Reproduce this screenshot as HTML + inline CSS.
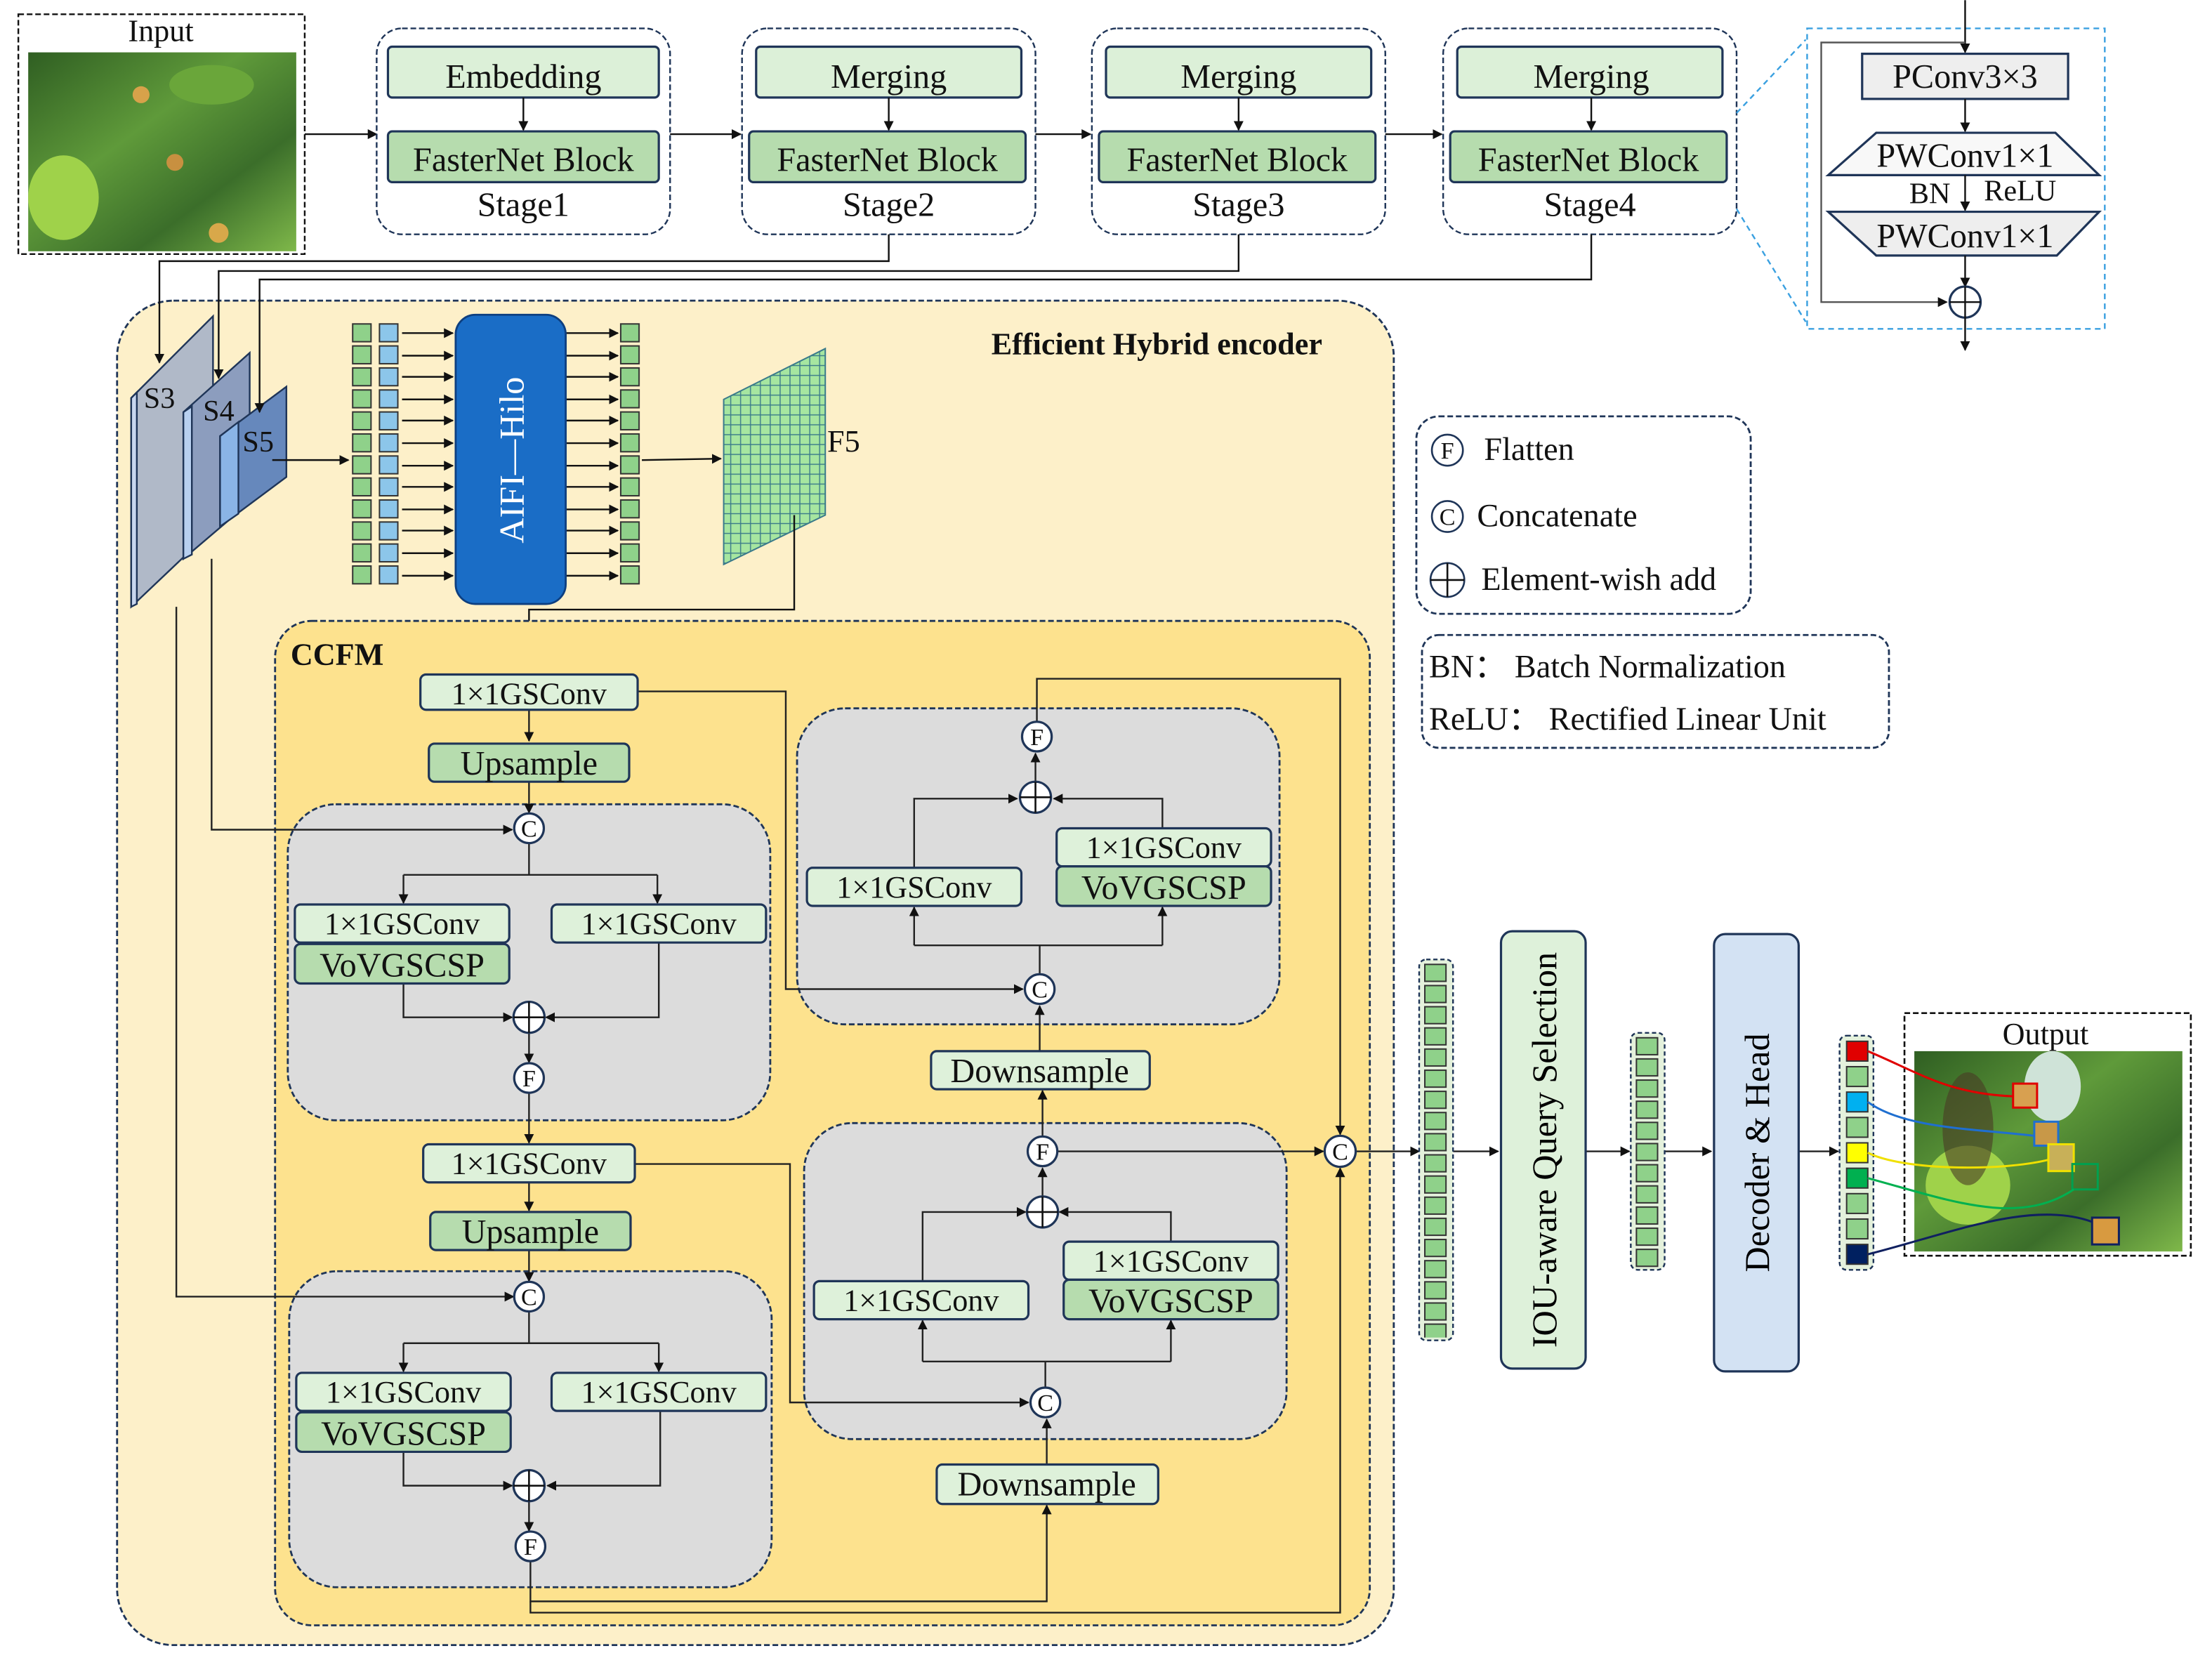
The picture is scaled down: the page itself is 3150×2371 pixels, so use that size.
<!DOCTYPE html>
<html><head><meta charset="utf-8"><style>html,body{margin:0;padding:0;background:#fff}svg{display:block}svg text{font-family:"Liberation Serif","DejaVu Serif",serif}</style></head>
<body>
<svg xmlns="http://www.w3.org/2000/svg" width="3150" height="2371" viewBox="0 0 1568 1180">
<defs>
<marker id="a" viewBox="0 0 10 10" refX="9" refY="5" markerWidth="7" markerHeight="7" orient="auto-start-reverse" markerUnits="userSpaceOnUse"><path d="M0,0L10,5L0,10z" fill="#111"/></marker>
<pattern id="tg1" x="249" y="228" width="200" height="15.6" patternUnits="userSpaceOnUse"><rect x="1" y="1.5" width="13" height="12.6" fill="#8fd18a" stroke="#333" stroke-width="1"/></pattern>
<pattern id="tb1" x="268" y="228" width="200" height="15.6" patternUnits="userSpaceOnUse"><rect x="1" y="1.5" width="13" height="12.6" fill="#8cc6ea" stroke="#333" stroke-width="1"/></pattern>
<pattern id="tg2" x="439" y="228" width="200" height="15.6" patternUnits="userSpaceOnUse"><rect x="1" y="1.5" width="13" height="12.6" fill="#8fd18a" stroke="#333" stroke-width="1"/></pattern>
<pattern id="tq1" x="1008" y="682" width="200" height="15" patternUnits="userSpaceOnUse"><rect x="2" y="1.5" width="15" height="12" fill="#8fd18a" stroke="#333" stroke-width="1"/></pattern>
<pattern id="tq2" x="1158" y="734" width="200" height="15" patternUnits="userSpaceOnUse"><rect x="2" y="1.5" width="15" height="12" fill="#8fd18a" stroke="#333" stroke-width="1"/></pattern>
<pattern id="grid" width="7" height="7" patternUnits="userSpaceOnUse"><rect width="7" height="7" fill="#a6e6a0" stroke="#3a7a8a" stroke-width="0.7"/></pattern>
<linearGradient id="img" x1="0" y1="0" x2="1" y2="1"><stop offset="0" stop-color="#2f5e22"/><stop offset="0.4" stop-color="#5f9a3a"/><stop offset="0.7" stop-color="#3b6e2a"/><stop offset="1" stop-color="#7fb84a"/></linearGradient>
</defs>
<g stroke="#111" stroke-width="1.2" fill="none">
<rect x="13" y="10" width="203" height="170" stroke-dasharray="4,2" fill="#fff"/>
<rect x="20" y="37" width="190" height="141" fill="url(#img)" stroke="none"/>
<ellipse cx="45" cy="140" rx="25" ry="30" fill="#9fd24a" stroke="none"/>
<ellipse cx="150" cy="60" rx="30" ry="14" fill="#6aa63a" stroke="none"/>
<circle cx="100" cy="67" r="6" fill="#d7a24a" stroke="none"/><circle cx="124" cy="115" r="6" fill="#c89040" stroke="none"/><circle cx="155" cy="165" r="7" fill="#d8a84a" stroke="none"/>
<line x1="216" y1="95" x2="267" y2="95" marker-end="url(#a)"/>
<g stroke="#1f3558">
<rect x="267" y="20" width="208" height="146" rx="18" stroke-dasharray="4,2"/>
<rect x="526" y="20" width="208" height="146" rx="18" stroke-dasharray="4,2"/>
<rect x="774" y="20" width="208" height="146" rx="18" stroke-dasharray="4,2"/>
<rect x="1023" y="20" width="208" height="146" rx="18" stroke-dasharray="4,2"/>
<rect x="275" y="33" width="192" height="36" rx="3" fill="#dcf0d8" stroke-width="1.6"/>
<rect x="275" y="93" width="192" height="36" rx="3" fill="#b6dcae" stroke-width="1.6"/>
<rect x="536" y="33" width="188" height="36" rx="3" fill="#dcf0d8" stroke-width="1.6"/>
<rect x="531" y="93" width="196" height="36" rx="3" fill="#b6dcae" stroke-width="1.6"/>
<rect x="784" y="33" width="188" height="36" rx="3" fill="#dcf0d8" stroke-width="1.6"/>
<rect x="779" y="93" width="196" height="36" rx="3" fill="#b6dcae" stroke-width="1.6"/>
<rect x="1033" y="33" width="188" height="36" rx="3" fill="#dcf0d8" stroke-width="1.6"/>
<rect x="1028" y="93" width="196" height="36" rx="3" fill="#b6dcae" stroke-width="1.6"/>
</g>
<line x1="371" y1="69" x2="371" y2="92" marker-end="url(#a)"/>
<line x1="630" y1="69" x2="630" y2="92" marker-end="url(#a)"/>
<line x1="878" y1="69" x2="878" y2="92" marker-end="url(#a)"/>
<line x1="1128" y1="69" x2="1128" y2="92" marker-end="url(#a)"/>
<line x1="475" y1="95" x2="525" y2="95" marker-end="url(#a)"/>
<line x1="734" y1="95" x2="773" y2="95" marker-end="url(#a)"/>
<line x1="982" y1="95" x2="1022" y2="95" marker-end="url(#a)"/>
<line x1="1231" y1="80" x2="1280" y2="28" stroke="#3aa0e0" stroke-dasharray="4,3"/>
<line x1="1231" y1="148" x2="1280" y2="228" stroke="#3aa0e0" stroke-dasharray="4,3"/>
<rect x="1281" y="20" width="211" height="213" stroke="#3aa0e0" stroke-dasharray="4,3"/>
<line x1="1393" y1="0" x2="1393" y2="37" marker-end="url(#a)"/>
<polyline points="1393,30 1291,30 1291,214 1380,214" stroke="#555" marker-end="url(#a)"/>
<rect x="1320" y="38" width="146" height="32" fill="#eee" stroke="#1f3558" stroke-width="1.6"/>
<line x1="1393" y1="70" x2="1393" y2="93" marker-end="url(#a)"/>
<polygon points="1330,94 1457,94 1488,124 1296,124" fill="#f8f8f8" stroke="#1f3558" stroke-width="1.6"/>
<line x1="1393" y1="124" x2="1393" y2="149" marker-end="url(#a)"/>
<polygon points="1296,150 1488,150 1458,181 1330,181" fill="#eee" stroke="#1f3558" stroke-width="1.6"/>
<line x1="1393" y1="181" x2="1393" y2="203" marker-end="url(#a)"/>
<circle cx="1393" cy="214" r="11" fill="#fff" stroke="#1f3558" stroke-width="1.6"/>
<line x1="1382" y1="214" x2="1404" y2="214"/><line x1="1393" y1="203" x2="1393" y2="248" marker-end="url(#a)"/>
</g>
<rect x="83" y="213" width="905" height="953" rx="40" fill="#fdf0c9" stroke="#1f3558" stroke-width="1.4" stroke-dasharray="4,2"/>
<g stroke="#1f3558" stroke-width="1.2">
<polygon points="93,282 151,224 151,375 93,430" fill="#b0b9c8"/>
<polygon points="93,282 97,278 97,428 93,430" fill="#c8d6ee"/>
<polygon points="130,292 177,250 177,356 130,396" fill="#8c9dbe"/>
<polygon points="130,292 136,288 136,393 130,396" fill="#b8d0f0"/>
<polygon points="156,309 203,274 203,338 156,373" fill="#6688bc"/>
<polygon points="156,309 169,299 169,364 156,373" fill="#8ab4e6"/>
</g>
<g stroke="#111" stroke-width="1.2" fill="none">
<polyline points="630,166 630,185 113,185 113,257" marker-end="url(#a)"/>
<polyline points="878,166 878,192 155,192 155,268" marker-end="url(#a)"/>
<polyline points="1128,166 1128,198 184,198 184,292" marker-end="url(#a)"/>
<polyline points="193,326 247,326" marker-end="url(#a)"/>
</g>
<rect x="249" y="228" width="16" height="187.2" fill="url(#tg1)"/>
<rect x="268" y="228" width="16" height="187.2" fill="url(#tb1)"/>
<rect x="439" y="228" width="16" height="187.2" fill="url(#tg2)"/>
<g stroke="#111" stroke-width="1.2">
<line x1="285" y1="236" x2="321" y2="236" marker-end="url(#a)"/><line x1="285" y1="252" x2="321" y2="252" marker-end="url(#a)"/><line x1="285" y1="267" x2="321" y2="267" marker-end="url(#a)"/><line x1="285" y1="283" x2="321" y2="283" marker-end="url(#a)"/><line x1="285" y1="298" x2="321" y2="298" marker-end="url(#a)"/><line x1="285" y1="314" x2="321" y2="314" marker-end="url(#a)"/><line x1="285" y1="330" x2="321" y2="330" marker-end="url(#a)"/><line x1="285" y1="345" x2="321" y2="345" marker-end="url(#a)"/><line x1="285" y1="361" x2="321" y2="361" marker-end="url(#a)"/><line x1="285" y1="376" x2="321" y2="376" marker-end="url(#a)"/><line x1="285" y1="392" x2="321" y2="392" marker-end="url(#a)"/><line x1="285" y1="408" x2="321" y2="408" marker-end="url(#a)"/>
<line x1="401" y1="236" x2="438" y2="236" marker-end="url(#a)"/><line x1="401" y1="252" x2="438" y2="252" marker-end="url(#a)"/><line x1="401" y1="267" x2="438" y2="267" marker-end="url(#a)"/><line x1="401" y1="283" x2="438" y2="283" marker-end="url(#a)"/><line x1="401" y1="298" x2="438" y2="298" marker-end="url(#a)"/><line x1="401" y1="314" x2="438" y2="314" marker-end="url(#a)"/><line x1="401" y1="330" x2="438" y2="330" marker-end="url(#a)"/><line x1="401" y1="345" x2="438" y2="345" marker-end="url(#a)"/><line x1="401" y1="361" x2="438" y2="361" marker-end="url(#a)"/><line x1="401" y1="376" x2="438" y2="376" marker-end="url(#a)"/><line x1="401" y1="392" x2="438" y2="392" marker-end="url(#a)"/><line x1="401" y1="408" x2="438" y2="408" marker-end="url(#a)"/>
<line x1="455" y1="326" x2="511" y2="325" marker-end="url(#a)"/>
</g>
<rect x="323" y="223" width="78" height="205" rx="14" fill="#1a6dc6" stroke="#0d3f80" stroke-width="1.4"/>
<text transform="translate(371,326) rotate(-90)" text-anchor="middle" font-size="25" fill="#fff">AIFI—Hilo</text>
<polygon points="513,283 585,247 585,365 513,400" fill="url(#grid)" stroke="#3a7a8a"/>
<polyline points="563,365 563,432 375,432 375,477" fill="none" stroke="#111" stroke-width="1.2" marker-end="url(#a)"/>
<rect x="1004" y="295" width="237" height="140" rx="16" fill="#fff" stroke="#1f3558" stroke-width="1.4" stroke-dasharray="4,2"/>
<rect x="1008" y="450" width="331" height="80" rx="12" fill="#fff" stroke="#1f3558" stroke-width="1.4" stroke-dasharray="4,2"/>
<g stroke="#1f3558" stroke-width="1.3" fill="#fff">
<circle cx="1026" cy="319" r="11"/><circle cx="1026" cy="366" r="11"/><circle cx="1026" cy="411" r="12"/>
</g>
<g stroke="#111" stroke-width="1.3"><line x1="1014" y1="411" x2="1038" y2="411"/><line x1="1026" y1="399" x2="1026" y2="423"/></g>
<rect x="195" y="440" width="776" height="712" rx="26" fill="#fde28e" stroke="#1f3558" stroke-width="1.4" stroke-dasharray="4,2"/>
<g fill="#dcdcdc" stroke="#1f3558" stroke-width="1.4" stroke-dasharray="4,2">
<rect x="204" y="570" width="342" height="224" rx="34"/>
<rect x="205" y="901" width="342" height="224" rx="34"/>
<rect x="565" y="502" width="342" height="224" rx="34"/>
<rect x="570" y="796" width="342" height="224" rx="34"/>
</g>
<g fill="none" stroke="#222" stroke-width="1.2">
<line x1="375" y1="503" x2="375" y2="525" marker-end="url(#a)"/>
<line x1="375" y1="554" x2="375" y2="576" marker-end="url(#a)"/>
<polyline points="150,396 150,588 363,588" marker-end="url(#a)"/>
<line x1="375" y1="598" x2="375" y2="620"/>
<polyline points="286,620 466,620"/>
<line x1="286" y1="620" x2="286" y2="640" marker-end="url(#a)"/><line x1="466" y1="620" x2="466" y2="640" marker-end="url(#a)"/>
<polyline points="286,697 286,721 363,721" marker-end="url(#a)"/>
<polyline points="467,668 467,721 387,721" marker-end="url(#a)"/>
<line x1="375" y1="732" x2="375" y2="753" marker-end="url(#a)"/>
<line x1="375" y1="775" x2="375" y2="810" marker-end="url(#a)"/>
<line x1="375" y1="838" x2="375" y2="858" marker-end="url(#a)"/>
<line x1="375" y1="886" x2="375" y2="908" marker-end="url(#a)"/>
<polyline points="125,430 125,919 364,919" marker-end="url(#a)"/>
<line x1="375" y1="930" x2="375" y2="952"/>
<polyline points="286,952 467,952"/>
<line x1="286" y1="952" x2="286" y2="972" marker-end="url(#a)"/><line x1="467" y1="952" x2="467" y2="972" marker-end="url(#a)"/>
<polyline points="286,1029 286,1053 363,1053" marker-end="url(#a)"/>
<polyline points="468,1000 468,1053 388,1053" marker-end="url(#a)"/>
<line x1="375" y1="1064" x2="375" y2="1085" marker-end="url(#a)"/>
<polyline points="376,1107 376,1135 742,1135 742,1067" marker-end="url(#a)"/>
<polyline points="376,1135 376,1143 950,1143 950,828" marker-end="url(#a)"/>
<polyline points="452,490 557,490 557,701 725,701" marker-end="url(#a)"/>
<line x1="737" y1="745" x2="737" y2="713" marker-end="url(#a)"/>
<polyline points="737,690 737,670"/>
<polyline points="648,670 824,670"/>
<line x1="648" y1="670" x2="648" y2="643" marker-end="url(#a)"/><line x1="824" y1="670" x2="824" y2="643" marker-end="url(#a)"/>
<polyline points="648,615 648,566 721,566" marker-end="url(#a)"/>
<polyline points="824,587 824,566 747,566" marker-end="url(#a)"/>
<line x1="734" y1="554" x2="734" y2="534" marker-end="url(#a)"/>
<polyline points="735,511 735,481 950,481 950,804" marker-end="url(#a)"/>
<polyline points="450,825 560,825 560,994 729,994" marker-end="url(#a)"/>
<line x1="742" y1="1038" x2="742" y2="1006" marker-end="url(#a)"/>
<line x1="741" y1="983" x2="741" y2="965"/>
<polyline points="654,965 830,965"/>
<line x1="654" y1="965" x2="654" y2="936" marker-end="url(#a)"/><line x1="830" y1="965" x2="830" y2="936" marker-end="url(#a)"/>
<polyline points="654,908 654,859 727,859" marker-end="url(#a)"/>
<polyline points="830,880 830,859 751,859" marker-end="url(#a)"/>
<line x1="739" y1="848" x2="739" y2="828" marker-end="url(#a)"/>
<line x1="739" y1="805" x2="739" y2="773" marker-end="url(#a)"/>
<line x1="750" y1="816" x2="938" y2="816" marker-end="url(#a)"/>
<line x1="961" y1="816" x2="1006" y2="816" marker-end="url(#a)"/>
<line x1="1030" y1="816" x2="1062" y2="816" marker-end="url(#a)"/>
<line x1="1124" y1="816" x2="1155" y2="816" marker-end="url(#a)"/>
<line x1="1180" y1="816" x2="1213" y2="816" marker-end="url(#a)"/>
<line x1="1275" y1="816" x2="1303" y2="816" marker-end="url(#a)"/>
</g>
<g stroke="#1f3558" stroke-width="1.6">
<rect x="298" y="478" width="154" height="25" rx="4" fill="#def1da"/>
<rect x="304" y="527" width="142" height="27" rx="4" fill="#b6dcae"/>
<rect x="209" y="641" width="152" height="27" rx="4" fill="#def1da"/>
<rect x="209" y="669" width="152" height="28" rx="4" fill="#b6dcae"/>
<rect x="391" y="641" width="152" height="27" rx="4" fill="#def1da"/>
<rect x="300" y="811" width="150" height="27" rx="4" fill="#def1da"/>
<rect x="305" y="859" width="142" height="27" rx="4" fill="#b6dcae"/>
<rect x="210" y="973" width="152" height="27" rx="4" fill="#def1da"/>
<rect x="210" y="1001" width="152" height="28" rx="4" fill="#b6dcae"/>
<rect x="391" y="973" width="152" height="27" rx="4" fill="#def1da"/>
<rect x="572" y="615" width="152" height="27" rx="4" fill="#def1da"/>
<rect x="749" y="587" width="152" height="27" rx="4" fill="#def1da"/>
<rect x="749" y="614" width="152" height="28" rx="4" fill="#b6dcae"/>
<rect x="660" y="745" width="155" height="27" rx="4" fill="#def1da"/>
<rect x="577" y="908" width="152" height="27" rx="4" fill="#def1da"/>
<rect x="754" y="880" width="152" height="27" rx="4" fill="#def1da"/>
<rect x="754" y="907" width="152" height="28" rx="4" fill="#b6dcae"/>
<rect x="664" y="1038" width="157" height="28" rx="4" fill="#def1da"/>
<g fill="#fff">
<circle cx="375" cy="587" r="10.5"/><circle cx="375" cy="721" r="11"/><circle cx="375" cy="764" r="10.5"/>
<circle cx="375" cy="919" r="10.5"/><circle cx="375" cy="1053" r="11"/><circle cx="376" cy="1096" r="10.5"/>
<circle cx="735" cy="522" r="10.5"/><circle cx="734" cy="565" r="11"/><circle cx="737" cy="701" r="10.5"/>
<circle cx="739" cy="816" r="10.5"/><circle cx="739" cy="859" r="11"/><circle cx="741" cy="994" r="10.5"/>
<circle cx="950" cy="816" r="11"/>
</g>
</g>
<g stroke="#111" stroke-width="1.3">
<line x1="364" y1="721" x2="386" y2="721"/><line x1="375" y1="710" x2="375" y2="732"/>
<line x1="364" y1="1053" x2="386" y2="1053"/><line x1="375" y1="1042" x2="375" y2="1064"/>
<line x1="723" y1="565" x2="745" y2="565"/><line x1="734" y1="554" x2="734" y2="576"/>
<line x1="728" y1="859" x2="750" y2="859"/><line x1="739" y1="848" x2="739" y2="870"/>
</g>
<rect x="1006" y="680" width="24" height="270" rx="5" fill="#e4f1dc" stroke="#1f3558" stroke-width="1.2" stroke-dasharray="3,2"/>
<rect x="1008" y="682" width="20" height="266" fill="url(#tq1)"/>
<rect x="1156" y="732" width="24" height="168" rx="5" fill="#e4f1dc" stroke="#1f3558" stroke-width="1.2" stroke-dasharray="3,2"/>
<rect x="1158" y="734" width="20" height="165" fill="url(#tq2)"/>
<rect x="1064" y="660" width="60" height="310" rx="8" fill="#def1da" stroke="#1f3558" stroke-width="1.6"/>
<text transform="translate(1103,815) rotate(-90)" text-anchor="middle" font-size="25">IOU-aware  Query  Selection</text>
<rect x="1215" y="662" width="60" height="310" rx="8" fill="#d3e2f3" stroke="#1f3558" stroke-width="1.6"/>
<text transform="translate(1254,817) rotate(-90)" text-anchor="middle" font-size="25">Decoder &amp; Head</text>
<rect x="1304" y="734" width="24" height="166" rx="5" fill="#e4f1dc" stroke="#1f3558" stroke-width="1.2" stroke-dasharray="3,2"/>
<g stroke="#333" stroke-width="1">
<rect x="1309" y="738" width="15" height="14" fill="#e00000"/><rect x="1309" y="756" width="15" height="14" fill="#8fd18a"/>
<rect x="1309" y="774" width="15" height="14" fill="#00b0f0"/><rect x="1309" y="792" width="15" height="14" fill="#8fd18a"/>
<rect x="1309" y="810" width="15" height="14" fill="#ffff00"/><rect x="1309" y="828" width="15" height="14" fill="#00b050"/>
<rect x="1309" y="846" width="15" height="14" fill="#8fd18a"/><rect x="1309" y="864" width="15" height="14" fill="#8fd18a"/>
<rect x="1309" y="882" width="15" height="14" fill="#002060"/>
</g>
<rect x="1350" y="718" width="203" height="172" fill="#fff" stroke="#111" stroke-width="1.3" stroke-dasharray="4,2"/>
<rect x="1357" y="745" width="190" height="142" fill="url(#img)"/>
<ellipse cx="1395" cy="840" rx="30" ry="28" fill="#9fd24a"/><ellipse cx="1395" cy="800" rx="18" ry="40" fill="#4a3a25" opacity="0.6"/>
<ellipse cx="1455" cy="770" rx="20" ry="25" fill="#cfe3d8"/>
<g stroke-width="1.5" fill="none">
<rect x="1427" y="768" width="17" height="17" stroke="#e00000" fill="#d8a050"/>
<rect x="1442" y="795" width="17" height="17" stroke="#1f6fd0" fill="#c89848"/>
<rect x="1452" y="811" width="18" height="19" stroke="#f0e000" fill="#c8b058"/>
<rect x="1469" y="825" width="18" height="18" stroke="#00a050"/>
<rect x="1483" y="863" width="19" height="19" stroke="#102060" fill="#d89a40"/>
<path d="M1324,745 C1360,760 1380,775 1427,777" stroke="#e00000"/>
<path d="M1324,781 C1350,800 1400,800 1442,805" stroke="#1f6fd0"/>
<path d="M1324,817 C1350,830 1420,830 1452,822" stroke="#f0e000"/>
<path d="M1324,835 C1380,850 1430,870 1470,843" stroke="#00b050"/>
<path d="M1324,889 C1380,875 1440,850 1483,866" stroke="#102060"/>
</g>
<g font-size="24" fill="#111" text-anchor="middle">
<text x="114" y="29" font-size="22">Input</text>
<text x="371" y="62">Embedding</text><text x="371" y="121">FasterNet Block</text><text x="371" y="153">Stage1</text>
<text x="630" y="62">Merging</text><text x="629" y="121">FasterNet Block</text><text x="630" y="153">Stage2</text>
<text x="878" y="62">Merging</text><text x="877" y="121">FasterNet Block</text><text x="878" y="153">Stage3</text>
<text x="1128" y="62">Merging</text><text x="1126" y="121">FasterNet Block</text><text x="1127" y="153">Stage4</text>
<text x="1393" y="62">PConv3×3</text>
<text x="1393" y="118">PWConv1×1</text>
<text x="1368" y="144" font-size="21">BN</text><text x="1432" y="142" font-size="21">ReLU</text>
<text x="1393" y="175">PWConv1×1</text>
<text x="113" y="289" font-size="21">S3</text><text x="155" y="298" font-size="21">S4</text><text x="183" y="320" font-size="21">S5</text>
<text x="598" y="320" font-size="22">F5</text>
<text x="820" y="251" font-weight="bold" font-size="22">Efficient Hybrid  encoder</text>
<text x="239" y="471" font-weight="bold" font-size="22">CCFM</text>
<text x="375" y="499" font-size="22">1×1GSConv</text>
<text x="375" y="549">Upsample</text>
<text x="285" y="662" font-size="22">1×1GSConv</text><text x="285" y="692">VoVGSCSP</text><text x="467" y="662" font-size="22">1×1GSConv</text>
<text x="375" y="832" font-size="22">1×1GSConv</text>
<text x="376" y="881">Upsample</text>
<text x="286" y="994" font-size="22">1×1GSConv</text><text x="286" y="1024">VoVGSCSP</text><text x="467" y="994" font-size="22">1×1GSConv</text>
<text x="648" y="636" font-size="22">1×1GSConv</text><text x="825" y="608" font-size="22">1×1GSConv</text><text x="825" y="637">VoVGSCSP</text>
<text x="737" y="767">Downsample</text>
<text x="653" y="929" font-size="22">1×1GSConv</text><text x="830" y="901" font-size="22">1×1GSConv</text><text x="830" y="930">VoVGSCSP</text>
<text x="742" y="1060">Downsample</text>
<text x="1450" y="740" font-size="22">Output</text>
<g font-size="17">
<text x="375" y="593">C</text><text x="375" y="770">F</text><text x="375" y="925">C</text><text x="376" y="1102">F</text>
<text x="735" y="528">F</text><text x="737" y="707">C</text><text x="739" y="822">F</text><text x="741" y="1000">C</text><text x="950" y="822">C</text>
<text x="1026" y="325">F</text><text x="1026" y="372">C</text>
</g>
</g>
<g font-size="23" fill="#111">
<text x="1052" y="326">Flatten</text>
<text x="1047" y="373">Concatenate</text>
<text x="1050" y="418">Element-wish  add</text>
<text x="1013" y="480">BN：  Batch Normalization</text>
<text x="1013" y="517">ReLU：  Rectified Linear Unit</text>
</g>
</svg>
</body></html>
